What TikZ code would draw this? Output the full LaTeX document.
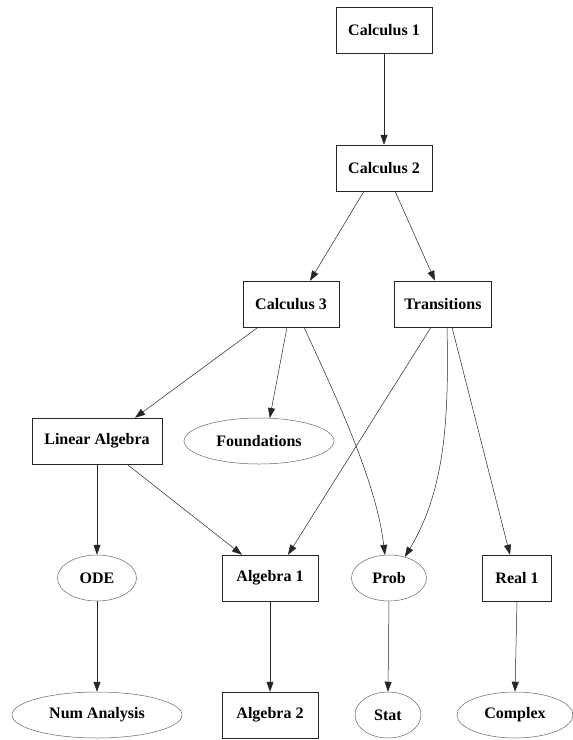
\documentclass[tikz,border=0pt]{standalone}
\usepackage{fontspec}
\setmainfont{Liberation Serif}
\usetikzlibrary{shapes.geometric,arrows.meta}
\tikzset{
  box/.style={draw=black!85, line width=0.5pt, rectangle, minimum height=46pt, inner sep=0pt, font=\fontsize{16}{18}\selectfont\bfseries},
  oval/.style={draw=black!60, line width=0.5pt, ellipse, minimum height=46pt, inner sep=0pt, font=\fontsize{16}{18}\selectfont\bfseries},
  edge/.style={draw=black!85, line width=0.5pt, -{Triangle[length=10pt,width=7pt]}}
}
\begin{document}
\begin{tikzpicture}[x=1pt,y=-1pt]
\useasboundingbox[fill=white] (0,0) rectangle (573,740);
\node[box, minimum width=96pt] (c1) at (384,30) {Calculus 1};
\node[box, minimum width=96pt] (c2) at (384,168) {Calculus 2};
\node[box, minimum width=96pt] (c3) at (291,304) {Calculus 3};
\node[box, minimum width=97pt] (tr) at (443,304) {Transitions};
\node[box, minimum width=130pt] (la) at (97,441) {Linear Algebra};
\node[oval, minimum width=150pt] (fo) at (259,441) {Foundations};
\node[oval, minimum width=79pt] (ode) at (97,578) {ODE};
\node[box, minimum width=96pt] (a1) at (270,578) {Algebra 1};
\node[oval, minimum width=75pt] (pr) at (389,578) {Prob};
\node[box, minimum width=69pt] (r1) at (517,578) {Real 1};
\node[oval, minimum width=170pt] (na) at (97,715) {Num Analysis};
\node[box, minimum width=96pt] (a2) at (270,715) {Algebra 2};
\node[oval, minimum width=66pt] (st) at (388,715) {Stat};
\node[oval, minimum width=116pt] (cx) at (515,715) {Complex};

\draw[edge] (c1.south) -- (c2.north);
\draw[edge] ([xshift=-20pt]c2.south) -- ([xshift=19pt]c3.north);
\draw[edge] ([xshift=11pt]c2.south) -- ([xshift=-8pt]tr.north);
\draw[edge] ([xshift=-33pt]c3.south) -- ([xshift=38pt]la.north);
\draw[edge] ([xshift=-4pt]c3.south) -- (fo.65);
\draw[edge] ([xshift=13pt]c3.south) .. controls (335,395) and (376,480) .. (pr.100);
\draw[edge] ([xshift=-12pt]tr.south) -- ([xshift=18pt]a1.north);
\draw[edge] ([xshift=4pt]tr.south) .. controls (449,420) and (445,490) .. (pr.53);
\draw[edge] ([xshift=9pt]tr.south) -- ([xshift=-7pt]r1.north);
\draw[edge] (la.south) -- (ode.north);
\draw[edge] ([xshift=30pt]la.south) -- ([xshift=-28pt]a1.north);
\draw[edge] (ode.south) -- (na.north);
\draw[edge] (a1.south) -- (a2.north);
\draw[edge] (pr.south) -- (st.north);
\draw[edge] (r1.south) -- (cx.north);
\end{tikzpicture}
\end{document}
